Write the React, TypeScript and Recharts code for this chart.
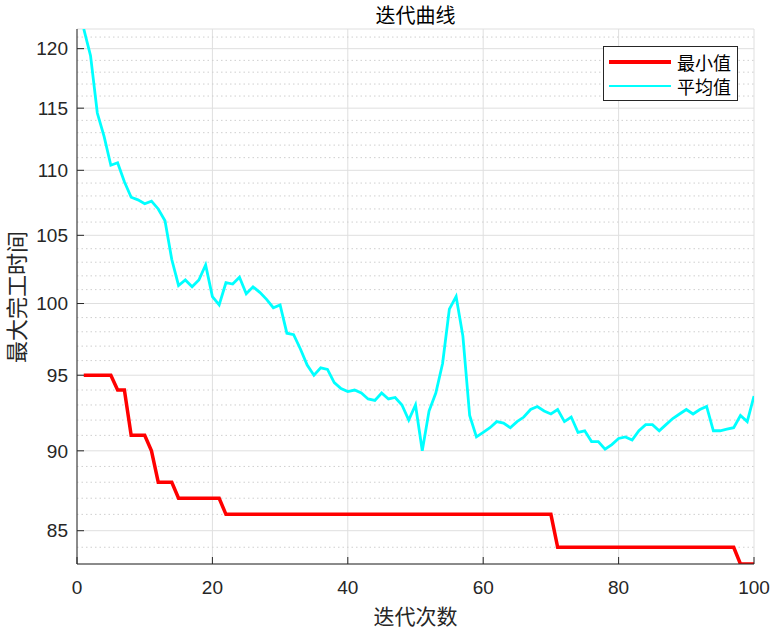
import { LineChart, Line, XAxis, YAxis, CartesianGrid, ReferenceLine, Legend } from 'recharts'

// iteration index 1..100
const iterations = Array.from({ length: 100 }, (_, i) => i + 1)

const minValues = [
  95, 95, 95, 95, 95, 94, 94, 91, 91, 91,
  90, 88, 88, 88, 87, 87, 87, 87, 87, 87,
  87, 86, 86, 86, 86, 86, 86, 86, 86, 86,
  86, 86, 86, 86, 86, 86, 86, 86, 86, 86,
  86, 86, 86, 86, 86, 86, 86, 86, 86, 86,
  86, 86, 86, 86, 86, 86, 86, 86, 86, 86,
  86, 86, 86, 86, 86, 86, 86, 86, 86, 86,
  84, 84, 84, 84, 84, 84, 84, 84, 84, 84,
  84, 84, 84, 84, 84, 84, 84, 84, 84, 84,
  84, 84, 84, 84, 84, 84, 84, 83, 83, 83,
]

const avgValues = [
  121.7, 119.4, 114.6, 112.7, 110.4, 110.6, 109.1, 107.9, 107.7, 107.4,
  107.6, 107.0, 106.1, 103.2, 101.3, 101.7, 101.2, 101.7, 102.8, 100.5,
  99.9, 101.5, 101.4, 101.9, 100.7, 101.2, 100.8, 100.3, 99.7, 99.9,
  97.9, 97.8, 96.8, 95.7, 95.0, 95.5, 95.4, 94.5, 94.1, 93.9,
  94.0, 93.8, 93.4, 93.3, 93.8, 93.4, 93.5, 93.0, 92.0, 93.0,
  90.0, 92.6, 93.8, 95.8, 99.6, 100.5, 97.7, 92.3, 90.9, 91.2,
  91.5, 91.9, 91.8, 91.5, 91.9, 92.2, 92.7, 92.9, 92.6, 92.4,
  92.7, 91.9, 92.2, 91.2, 91.3, 90.6, 90.6, 90.1, 90.4, 90.8,
  90.9, 90.7, 91.3, 91.7, 91.7, 91.3, 91.7, 92.1, 92.4, 92.7,
  92.4, 92.7, 92.9, 91.3, 91.3, 91.4, 91.5, 92.3, 91.9, 93.6,
]

const xTicks = [0, 20, 40, 60, 80, 100]
const yTicks = [85, 90, 95, 100, 105, 110, 115, 120]
const yMinorTicks = [
  84, 86, 87, 88, 89, 91, 92, 93, 94, 96, 97, 98, 99,
  101, 102, 103, 104, 106, 107, 108, 109, 111, 112, 113, 114,
  116, 117, 118, 119, 121,
]
const yDomain = [83, 121.7]

const data = iterations.map((it, i) => ({ iter: it, min: minValues[i], avg: avgValues[i] }))

const axisColor = '#262626'
const numFont = '"Liberation Sans", Arial, sans-serif'
const cjkFont = '"Noto Sans CJK SC", sans-serif'
const legendOrder = ['min', 'avg']
const lineWidths: Record<string, number> = { min: 3.5, avg: 2.8 }

function LegendBox({ payload }: any) {
  const items = [...(payload || [])].sort(
    (a: any, b: any) => legendOrder.indexOf(a.dataKey) - legendOrder.indexOf(b.dataKey)
  )
  return (
    <div style={{ position: 'relative', width: 135, height: 55, boxSizing: 'border-box', border: `1px solid ${axisColor}`, background: '#fff' }}>
      {items.map((p: any, i: number) => {
        const w = lineWidths[p.dataKey] || 2
        return (
          <div key={i}>
            <div style={{ position: 'absolute', left: 5, top: 15 + i * 24 - w / 2, width: 62, height: w, background: p.color }} />
            <div style={{ position: 'absolute', left: 73, top: 4 + i * 24, fontFamily: cjkFont, fontSize: 18, lineHeight: '22px', color: '#000' }}>{p.value}</div>
          </div>
        )
      })}
    </div>
  )
}

export default function App() {
  return (
    <div style={{ position: 'absolute', left: 0, top: 0, width: 774, height: 630, background: '#fff' }}>
      <LineChart width={774} height={630} data={data} margin={{ top: 29, right: 20, bottom: 0, left: 0 }}>
        <CartesianGrid xAxisId="b" yAxisId="l" stroke="#dfdfdf" strokeWidth={1} />
        {yMinorTicks.map(v => (
          <ReferenceLine key={v} xAxisId="b" yAxisId="l" y={v} stroke="#cfcfcf" strokeDasharray="1.5 3" strokeWidth={1} />
        ))}
        <XAxis
          xAxisId="b" dataKey="iter" type="number" domain={[0, 100]} ticks={xTicks} interval={0}
          height={66} tickSize={-7} tickMargin={24} stroke={axisColor} allowDataOverflow
          tick={{ fill: axisColor, fontSize: 19, fontFamily: numFont }}
        />
        <XAxis
          xAxisId="t" orientation="top" dataKey="iter" type="number" domain={[0, 100]} ticks={xTicks} interval={0}
          height={0} tickSize={-7} tick={false} stroke={axisColor} allowDataOverflow
        />
        <YAxis
          yAxisId="l" type="number" scale="log" domain={yDomain} allowDataOverflow ticks={yTicks} interval={0}
          width={77} tickSize={-7} tickMargin={16} stroke={axisColor}
          tick={{ fill: axisColor, fontSize: 19, fontFamily: numFont }}
        />
        <YAxis
          yAxisId="r" orientation="right" type="number" scale="log" domain={yDomain} allowDataOverflow ticks={yTicks} interval={0}
          width={0} tickSize={-7} tick={false} stroke={axisColor}
        />
        <YAxis
          yAxisId="lm" mirror type="number" scale="log" domain={yDomain} allowDataOverflow ticks={yMinorTicks} interval={0}
          width={0} tickSize={3.5} tick={false} axisLine={false} stroke={axisColor}
        />
        <YAxis
          yAxisId="rm" orientation="right" mirror type="number" scale="log" domain={yDomain} allowDataOverflow ticks={yMinorTicks} interval={0}
          width={0} tickSize={3.5} tick={false} axisLine={false} stroke={axisColor}
        />
        <Line xAxisId="b" yAxisId="l" type="linear" dataKey="min" name="最小值" stroke="#ff0000" strokeWidth={3.5} dot={false} activeDot={false} isAnimationActive={false} />
        <Line xAxisId="b" yAxisId="l" type="linear" dataKey="avg" name="平均值" stroke="#00ffff" strokeWidth={2.8} dot={false} activeDot={false} isAnimationActive={false} />
        <Legend
          layout="horizontal" verticalAlign="middle" align="center"
          wrapperStyle={{ left: 603, top: 46, width: 135, height: 55 }}
          content={LegendBox}
        />
      </LineChart>
      <div style={{ position: 'absolute', left: 77, top: 0, width: 677, textAlign: 'center', fontFamily: cjkFont, fontSize: 20, lineHeight: 'normal', color: '#000' }}>
        迭代曲线
      </div>
      <div style={{ position: 'absolute', left: 77, top: 600, width: 677, textAlign: 'center', fontFamily: cjkFont, fontSize: 21, lineHeight: 'normal', color: '#262626' }}>
        迭代次数
      </div>
      <div style={{ position: 'absolute', left: 15, top: 297, transform: 'translate(-50%, -50%) rotate(-90deg)', whiteSpace: 'nowrap', fontFamily: cjkFont, fontSize: 22, lineHeight: 'normal', color: '#262626' }}>
        最大完工时间
      </div>
    </div>
  )
}
